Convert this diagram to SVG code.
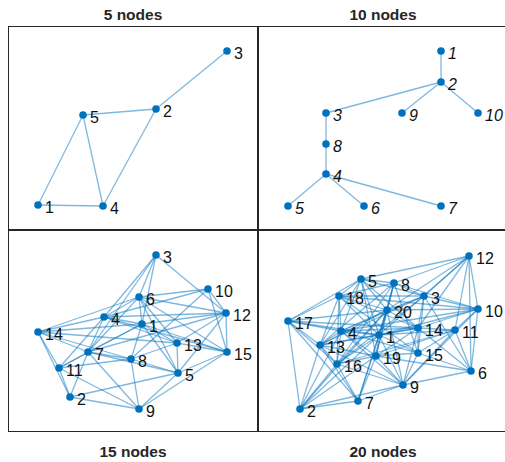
<svg xmlns="http://www.w3.org/2000/svg" width="505" height="462" viewBox="0 0 505 462">
<style>
.bg{fill:#fff}
.frame{fill:none;stroke:#262626;stroke-width:1}
.title{font-family:"Liberation Sans",Arial,sans-serif;font-size:15.5px;font-weight:bold;fill:#262626;text-anchor:middle}
.edges line{stroke:#0072BD;stroke-opacity:0.5;stroke-width:1.3}
.node circle{fill:#0072BD}
.node text{font-family:"Liberation Sans",Arial,sans-serif;font-size:16px;fill:#111}
.it text{font-style:italic}
</style>
<rect class="bg" x="0" y="0" width="505" height="462"/>
<g id="titles">
<text class="title" x="133" y="20">5 nodes</text>
<text class="title" x="383" y="20">10 nodes</text>
<text class="title" x="133" y="457">15 nodes</text>
<text class="title" x="383" y="457">20 nodes</text>
</g>
<g id="frames">
<rect class="frame" x="8.5" y="26.5" width="249" height="203"/>
<rect class="frame" x="258.5" y="26.5" width="248" height="203"/>
<rect class="frame" x="8.5" y="230.5" width="249" height="201"/>
<rect class="frame" x="258.5" y="230.5" width="248" height="201"/>
</g>

<!-- Panel 1 -->
<g id="p1-edges" class="edges">
<line x1="227" y1="51" x2="156" y2="109"/>
<line x1="156" y1="109" x2="83" y2="115"/>
<line x1="156" y1="109" x2="103" y2="206"/>
<line x1="83" y1="115" x2="38" y2="205"/>
<line x1="83" y1="115" x2="103" y2="206"/>
<line x1="38" y1="205" x2="103" y2="206"/>
</g>
<g id="p1-n1" class="node"><circle cx="38" cy="205" r="3.8"/><text x="45" y="212.5">1</text></g>
<g id="p1-n2" class="node"><circle cx="156" cy="109" r="3.8"/><text x="163" y="116.5">2</text></g>
<g id="p1-n3" class="node"><circle cx="227" cy="51" r="3.8"/><text x="234" y="58.5">3</text></g>
<g id="p1-n4" class="node"><circle cx="103" cy="206" r="3.8"/><text x="110" y="213.5">4</text></g>
<g id="p1-n5" class="node"><circle cx="83" cy="115" r="3.8"/><text x="90" y="122.5">5</text></g>

<!-- Panel 2 -->
<g id="p2-edges" class="edges">
<line x1="441" y1="51" x2="441" y2="82"/>
<line x1="441" y1="82" x2="326" y2="113"/>
<line x1="441" y1="82" x2="402" y2="113"/>
<line x1="441" y1="82" x2="478" y2="113"/>
<line x1="326" y1="113" x2="326" y2="144"/>
<line x1="326" y1="144" x2="326" y2="174"/>
<line x1="326" y1="174" x2="288" y2="206"/>
<line x1="326" y1="174" x2="364" y2="206"/>
<line x1="326" y1="174" x2="441" y2="206"/>
</g>
<g id="p2-n1" class="node it"><circle cx="441" cy="51" r="3.8"/><text x="448" y="58.5">1</text></g>
<g id="p2-n2" class="node it"><circle cx="441" cy="82" r="3.8"/><text x="448" y="89.5">2</text></g>
<g id="p2-n3" class="node it"><circle cx="326" cy="113" r="3.8"/><text x="333" y="120.5">3</text></g>
<g id="p2-n4" class="node it"><circle cx="326" cy="174" r="3.8"/><text x="333" y="181.5">4</text></g>
<g id="p2-n5" class="node it"><circle cx="288" cy="206" r="3.8"/><text x="295" y="213.5">5</text></g>
<g id="p2-n6" class="node it"><circle cx="364" cy="206" r="3.8"/><text x="371" y="213.5">6</text></g>
<g id="p2-n7" class="node it"><circle cx="441" cy="206" r="3.8"/><text x="448" y="213.5">7</text></g>
<g id="p2-n8" class="node it"><circle cx="326" cy="144" r="3.8"/><text x="333" y="151.5">8</text></g>
<g id="p2-n9" class="node it"><circle cx="402" cy="113" r="3.8"/><text x="409" y="120.5">9</text></g>
<g id="p2-n10" class="node it"><circle cx="478" cy="113" r="3.8"/><text x="485" y="120.5">10</text></g>

<!-- Panel 3 -->
<g id="p3-edges" class="edges">
<line x1="156" y1="255" x2="104" y2="317"/>
<line x1="156" y1="255" x2="139" y2="297"/>
<line x1="156" y1="255" x2="142" y2="324"/>
<line x1="156" y1="255" x2="88" y2="352"/>
<line x1="156" y1="255" x2="226" y2="313"/>
<line x1="208" y1="289" x2="139" y2="297"/>
<line x1="208" y1="289" x2="104" y2="317"/>
<line x1="208" y1="289" x2="226" y2="313"/>
<line x1="208" y1="289" x2="227" y2="352"/>
<line x1="208" y1="289" x2="131" y2="359"/>
<line x1="226" y1="313" x2="139" y2="297"/>
<line x1="226" y1="313" x2="104" y2="317"/>
<line x1="226" y1="313" x2="142" y2="324"/>
<line x1="226" y1="313" x2="227" y2="352"/>
<line x1="226" y1="313" x2="178" y2="373"/>
<line x1="226" y1="313" x2="177" y2="343"/>
<line x1="226" y1="313" x2="88" y2="352"/>
<line x1="139" y1="297" x2="38" y2="332"/>
<line x1="139" y1="297" x2="104" y2="317"/>
<line x1="139" y1="297" x2="142" y2="324"/>
<line x1="139" y1="297" x2="88" y2="352"/>
<line x1="139" y1="297" x2="177" y2="343"/>
<line x1="139" y1="297" x2="178" y2="373"/>
<line x1="139" y1="297" x2="227" y2="352"/>
<line x1="104" y1="317" x2="38" y2="332"/>
<line x1="104" y1="317" x2="142" y2="324"/>
<line x1="104" y1="317" x2="88" y2="352"/>
<line x1="104" y1="317" x2="59" y2="368"/>
<line x1="104" y1="317" x2="177" y2="343"/>
<line x1="104" y1="317" x2="227" y2="352"/>
<line x1="142" y1="324" x2="38" y2="332"/>
<line x1="142" y1="324" x2="88" y2="352"/>
<line x1="142" y1="324" x2="131" y2="359"/>
<line x1="142" y1="324" x2="177" y2="343"/>
<line x1="142" y1="324" x2="227" y2="352"/>
<line x1="142" y1="324" x2="178" y2="373"/>
<line x1="142" y1="324" x2="59" y2="368"/>
<line x1="38" y1="332" x2="88" y2="352"/>
<line x1="38" y1="332" x2="59" y2="368"/>
<line x1="38" y1="332" x2="70" y2="397"/>
<line x1="38" y1="332" x2="131" y2="359"/>
<line x1="38" y1="332" x2="177" y2="343"/>
<line x1="88" y1="352" x2="59" y2="368"/>
<line x1="88" y1="352" x2="131" y2="359"/>
<line x1="88" y1="352" x2="70" y2="397"/>
<line x1="88" y1="352" x2="139" y2="409"/>
<line x1="88" y1="352" x2="178" y2="373"/>
<line x1="59" y1="368" x2="131" y2="359"/>
<line x1="59" y1="368" x2="70" y2="397"/>
<line x1="59" y1="368" x2="139" y2="409"/>
<line x1="131" y1="359" x2="139" y2="409"/>
<line x1="131" y1="359" x2="178" y2="373"/>
<line x1="131" y1="359" x2="177" y2="343"/>
<line x1="177" y1="343" x2="178" y2="373"/>
<line x1="177" y1="343" x2="227" y2="352"/>
<line x1="227" y1="352" x2="178" y2="373"/>
<line x1="227" y1="352" x2="139" y2="409"/>
<line x1="178" y1="373" x2="139" y2="409"/>
<line x1="178" y1="373" x2="70" y2="397"/>
<line x1="70" y1="397" x2="139" y2="409"/>
</g>
<g id="p3-n1" class="node"><circle cx="142" cy="324" r="3.8"/><text x="149" y="331.5">1</text></g>
<g id="p3-n2" class="node"><circle cx="70" cy="397" r="3.8"/><text x="77" y="404.5">2</text></g>
<g id="p3-n3" class="node"><circle cx="156" cy="255" r="3.8"/><text x="163" y="262.5">3</text></g>
<g id="p3-n4" class="node"><circle cx="104" cy="317" r="3.8"/><text x="111" y="324.5">4</text></g>
<g id="p3-n5" class="node"><circle cx="178" cy="373" r="3.8"/><text x="185" y="380.5">5</text></g>
<g id="p3-n6" class="node"><circle cx="139" cy="297" r="3.8"/><text x="146" y="304.5">6</text></g>
<g id="p3-n7" class="node"><circle cx="88" cy="352" r="3.8"/><text x="95" y="359.5">7</text></g>
<g id="p3-n8" class="node"><circle cx="131" cy="359" r="3.8"/><text x="138" y="366.5">8</text></g>
<g id="p3-n9" class="node"><circle cx="139" cy="409" r="3.8"/><text x="146" y="416.5">9</text></g>
<g id="p3-n10" class="node"><circle cx="208" cy="289" r="3.8"/><text x="215" y="296.5">10</text></g>
<g id="p3-n11" class="node"><circle cx="59" cy="368" r="3.8"/><text x="66" y="375.5">11</text></g>
<g id="p3-n12" class="node"><circle cx="226" cy="313" r="3.8"/><text x="233" y="320.5">12</text></g>
<g id="p3-n13" class="node"><circle cx="177" cy="343" r="3.8"/><text x="184" y="350.5">13</text></g>
<g id="p3-n14" class="node"><circle cx="38" cy="332" r="3.8"/><text x="45" y="339.5">14</text></g>
<g id="p3-n15" class="node"><circle cx="227" cy="352" r="3.8"/><text x="234" y="359.5">15</text></g>

<!-- Panel 4 -->
<g id="p4-edges" class="edges">
<line x1="469" y1="256" x2="361" y2="279"/>
<line x1="469" y1="256" x2="394" y2="283"/>
<line x1="469" y1="256" x2="424" y2="296"/>
<line x1="469" y1="256" x2="387" y2="310"/>
<line x1="469" y1="256" x2="478" y2="309"/>
<line x1="469" y1="256" x2="455" y2="330"/>
<line x1="469" y1="256" x2="418" y2="328"/>
<line x1="469" y1="256" x2="471" y2="371"/>
<line x1="469" y1="256" x2="379" y2="335"/>
<line x1="361" y1="279" x2="339" y2="296"/>
<line x1="361" y1="279" x2="288" y2="321"/>
<line x1="361" y1="279" x2="394" y2="283"/>
<line x1="361" y1="279" x2="387" y2="310"/>
<line x1="361" y1="279" x2="341" y2="331"/>
<line x1="361" y1="279" x2="320" y2="345"/>
<line x1="361" y1="279" x2="379" y2="335"/>
<line x1="361" y1="279" x2="418" y2="328"/>
<line x1="361" y1="279" x2="376" y2="356"/>
<line x1="361" y1="279" x2="424" y2="296"/>
<line x1="394" y1="283" x2="339" y2="296"/>
<line x1="394" y1="283" x2="424" y2="296"/>
<line x1="394" y1="283" x2="387" y2="310"/>
<line x1="394" y1="283" x2="379" y2="335"/>
<line x1="394" y1="283" x2="376" y2="356"/>
<line x1="394" y1="283" x2="337" y2="364"/>
<line x1="394" y1="283" x2="478" y2="309"/>
<line x1="394" y1="283" x2="320" y2="345"/>
<line x1="394" y1="283" x2="418" y2="353"/>
<line x1="339" y1="296" x2="288" y2="321"/>
<line x1="339" y1="296" x2="341" y2="331"/>
<line x1="339" y1="296" x2="387" y2="310"/>
<line x1="339" y1="296" x2="320" y2="345"/>
<line x1="339" y1="296" x2="337" y2="364"/>
<line x1="339" y1="296" x2="424" y2="296"/>
<line x1="339" y1="296" x2="379" y2="335"/>
<line x1="339" y1="296" x2="418" y2="328"/>
<line x1="339" y1="296" x2="418" y2="353"/>
<line x1="339" y1="296" x2="478" y2="309"/>
<line x1="424" y1="296" x2="387" y2="310"/>
<line x1="424" y1="296" x2="478" y2="309"/>
<line x1="424" y1="296" x2="418" y2="328"/>
<line x1="424" y1="296" x2="341" y2="331"/>
<line x1="424" y1="296" x2="418" y2="353"/>
<line x1="424" y1="296" x2="471" y2="371"/>
<line x1="424" y1="296" x2="320" y2="345"/>
<line x1="424" y1="296" x2="337" y2="364"/>
<line x1="478" y1="309" x2="387" y2="310"/>
<line x1="478" y1="309" x2="418" y2="328"/>
<line x1="478" y1="309" x2="455" y2="330"/>
<line x1="478" y1="309" x2="471" y2="371"/>
<line x1="478" y1="309" x2="379" y2="335"/>
<line x1="478" y1="309" x2="403" y2="385"/>
<line x1="478" y1="309" x2="341" y2="331"/>
<line x1="387" y1="310" x2="288" y2="321"/>
<line x1="387" y1="310" x2="341" y2="331"/>
<line x1="387" y1="310" x2="379" y2="335"/>
<line x1="387" y1="310" x2="320" y2="345"/>
<line x1="387" y1="310" x2="376" y2="356"/>
<line x1="387" y1="310" x2="337" y2="364"/>
<line x1="387" y1="310" x2="403" y2="385"/>
<line x1="387" y1="310" x2="358" y2="401"/>
<line x1="387" y1="310" x2="300" y2="409"/>
<line x1="387" y1="310" x2="418" y2="328"/>
<line x1="288" y1="321" x2="341" y2="331"/>
<line x1="288" y1="321" x2="320" y2="345"/>
<line x1="288" y1="321" x2="379" y2="335"/>
<line x1="288" y1="321" x2="418" y2="328"/>
<line x1="288" y1="321" x2="337" y2="364"/>
<line x1="288" y1="321" x2="358" y2="401"/>
<line x1="288" y1="321" x2="300" y2="409"/>
<line x1="418" y1="328" x2="379" y2="335"/>
<line x1="418" y1="328" x2="341" y2="331"/>
<line x1="418" y1="328" x2="455" y2="330"/>
<line x1="418" y1="328" x2="418" y2="353"/>
<line x1="418" y1="328" x2="376" y2="356"/>
<line x1="418" y1="328" x2="403" y2="385"/>
<line x1="418" y1="328" x2="320" y2="345"/>
<line x1="418" y1="328" x2="471" y2="371"/>
<line x1="455" y1="330" x2="379" y2="335"/>
<line x1="455" y1="330" x2="418" y2="353"/>
<line x1="455" y1="330" x2="403" y2="385"/>
<line x1="455" y1="330" x2="471" y2="371"/>
<line x1="455" y1="330" x2="376" y2="356"/>
<line x1="455" y1="330" x2="337" y2="364"/>
<line x1="341" y1="331" x2="379" y2="335"/>
<line x1="341" y1="331" x2="320" y2="345"/>
<line x1="341" y1="331" x2="337" y2="364"/>
<line x1="341" y1="331" x2="376" y2="356"/>
<line x1="341" y1="331" x2="300" y2="409"/>
<line x1="341" y1="331" x2="403" y2="385"/>
<line x1="341" y1="331" x2="418" y2="353"/>
<line x1="379" y1="335" x2="320" y2="345"/>
<line x1="379" y1="335" x2="376" y2="356"/>
<line x1="379" y1="335" x2="418" y2="353"/>
<line x1="379" y1="335" x2="337" y2="364"/>
<line x1="379" y1="335" x2="403" y2="385"/>
<line x1="379" y1="335" x2="358" y2="401"/>
<line x1="379" y1="335" x2="300" y2="409"/>
<line x1="320" y1="345" x2="337" y2="364"/>
<line x1="320" y1="345" x2="376" y2="356"/>
<line x1="320" y1="345" x2="300" y2="409"/>
<line x1="320" y1="345" x2="358" y2="401"/>
<line x1="320" y1="345" x2="403" y2="385"/>
<line x1="418" y1="353" x2="376" y2="356"/>
<line x1="418" y1="353" x2="471" y2="371"/>
<line x1="418" y1="353" x2="403" y2="385"/>
<line x1="376" y1="356" x2="337" y2="364"/>
<line x1="376" y1="356" x2="403" y2="385"/>
<line x1="376" y1="356" x2="358" y2="401"/>
<line x1="376" y1="356" x2="300" y2="409"/>
<line x1="376" y1="356" x2="471" y2="371"/>
<line x1="337" y1="364" x2="300" y2="409"/>
<line x1="337" y1="364" x2="358" y2="401"/>
<line x1="337" y1="364" x2="403" y2="385"/>
<line x1="471" y1="371" x2="403" y2="385"/>
<line x1="403" y1="385" x2="358" y2="401"/>
<line x1="403" y1="385" x2="300" y2="409"/>
<line x1="358" y1="401" x2="300" y2="409"/>
</g>
<g id="p4-n1" class="node"><circle cx="379" cy="335" r="3.8"/><text x="386" y="342.5">1</text></g>
<g id="p4-n2" class="node"><circle cx="300" cy="409" r="3.8"/><text x="307" y="416.5">2</text></g>
<g id="p4-n3" class="node"><circle cx="424" cy="296" r="3.8"/><text x="431" y="303.5">3</text></g>
<g id="p4-n4" class="node"><circle cx="341" cy="331" r="3.8"/><text x="348" y="338.5">4</text></g>
<g id="p4-n5" class="node"><circle cx="361" cy="279" r="3.8"/><text x="368" y="286.5">5</text></g>
<g id="p4-n6" class="node"><circle cx="471" cy="371" r="3.8"/><text x="478" y="378.5">6</text></g>
<g id="p4-n7" class="node"><circle cx="358" cy="401" r="3.8"/><text x="365" y="408.5">7</text></g>
<g id="p4-n8" class="node"><circle cx="394" cy="283" r="3.8"/><text x="401" y="290.5">8</text></g>
<g id="p4-n9" class="node"><circle cx="403" cy="385" r="3.8"/><text x="410" y="392.5">9</text></g>
<g id="p4-n10" class="node"><circle cx="478" cy="309" r="3.8"/><text x="485" y="316.5">10</text></g>
<g id="p4-n11" class="node"><circle cx="455" cy="330" r="3.8"/><text x="462" y="337.5">11</text></g>
<g id="p4-n12" class="node"><circle cx="469" cy="256" r="3.8"/><text x="476" y="263.5">12</text></g>
<g id="p4-n13" class="node"><circle cx="320" cy="345" r="3.8"/><text x="327" y="352.5">13</text></g>
<g id="p4-n14" class="node"><circle cx="418" cy="328" r="3.8"/><text x="425" y="335.5">14</text></g>
<g id="p4-n15" class="node"><circle cx="418" cy="353" r="3.8"/><text x="425" y="360.5">15</text></g>
<g id="p4-n16" class="node"><circle cx="337" cy="364" r="3.8"/><text x="344" y="371.5">16</text></g>
<g id="p4-n17" class="node"><circle cx="288" cy="321" r="3.8"/><text x="295" y="328.5">17</text></g>
<g id="p4-n18" class="node"><circle cx="339" cy="296" r="3.8"/><text x="346" y="303.5">18</text></g>
<g id="p4-n19" class="node"><circle cx="376" cy="356" r="3.8"/><text x="383" y="363.5">19</text></g>
<g id="p4-n20" class="node"><circle cx="387" cy="310" r="3.8"/><text x="394" y="317.5">20</text></g>
</svg>
